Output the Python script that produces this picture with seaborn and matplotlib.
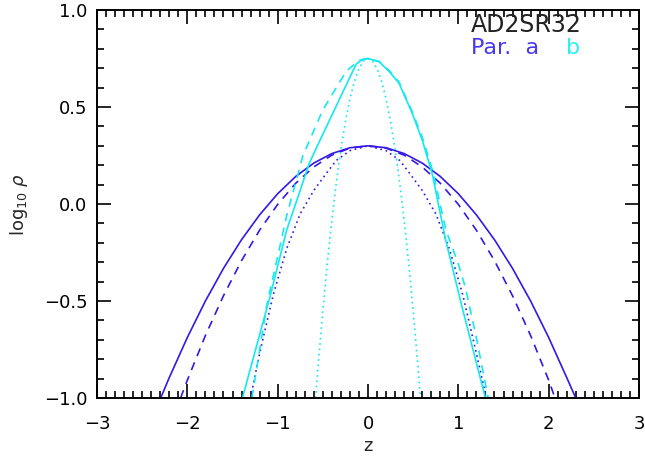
import numpy as np
import pandas as pd
import matplotlib
matplotlib.use("Agg")
import matplotlib.pyplot as plt
import seaborn as sns
from matplotlib.ticker import MultipleLocator

sns.set_theme(style="white")
plt.rcParams['font.family'] = ['DejaVu Sans']
plt.rcParams['mathtext.fontset'] = 'dejavusans'

# ---- data (z, log10 rho) ----
# Par. a (blue)
a_solid_z = [-2.295, -2.2, -2.0, -1.8, -1.6, -1.4, -1.2, -1.0, -0.8, -0.6, -0.4, -0.2, 0.0,
             0.2, 0.4, 0.6, 0.8, 1.0, 1.2, 1.4, 1.6, 1.8, 2.0, 2.2, 2.3]
a_solid_y = [-1.0, -0.895, -0.688, -0.500, -0.332, -0.184, -0.056, 0.053, 0.142, 0.211, 0.260, 0.290, 0.300,
             0.290, 0.260, 0.211, 0.142, 0.053, -0.056, -0.184, -0.332, -0.500, -0.688, -0.895, -1.0]

a_dash_z = [-2.075, -2.0, -1.8, -1.6, -1.4, -1.2, -1.0, -0.8, -0.6, -0.4, -0.2, 0.0,
            0.2, 0.4, 0.6, 0.8, 1.0, 1.2, 1.4, 1.6, 1.8, 2.0, 2.07]
a_dash_y = [-1.0, -0.908, -0.678, -0.473, -0.292, -0.135, -0.002, 0.107, 0.191, 0.252, 0.288, 0.300,
            0.288, 0.252, 0.191, 0.107, -0.002, -0.135, -0.292, -0.473, -0.678, -0.908, -1.0]

a_dot_z = [-1.30, -1.2, -1.05, -0.9, -0.75, -0.6, -0.45, -0.35, -0.2, 0.0,
           0.2, 0.35, 0.45, 0.6, 0.75, 0.9, 1.05, 1.2, 1.31]
a_dot_y = [-1.0, -0.77, -0.47, -0.23, -0.05, 0.07, 0.165, 0.225, 0.275, 0.300,
           0.275, 0.225, 0.165, 0.07, -0.05, -0.23, -0.47, -0.77, -1.0]

# b (cyan)
b_solid_z = [-1.39, -1.25, -1.085, -0.90, -0.78, -0.65, -0.52, -0.39, -0.26, -0.13, -0.06, 0.0,
             0.124, 0.24, 0.344, 0.49, 0.60, 0.71, 0.86, 1.04, 1.30]
b_solid_y = [-1.0, -0.76, -0.478, -0.134, 0.03, 0.21, 0.34, 0.467, 0.595, 0.722, 0.745, 0.75,
             0.733, 0.68, 0.622, 0.467, 0.33, 0.158, -0.186, -0.529, -1.0]

b_dash_z = [-1.285, -1.12, -1.0, -0.90, -0.72, -0.50, -0.24, -0.10, 0.0,
            0.124, 0.24, 0.344, 0.49, 0.60, 0.72, 0.86, 1.0, 1.08, 1.2, 1.33]
b_dash_y = [-1.0, -0.52, -0.27, -0.06, 0.25, 0.485, 0.685, 0.74, 0.75,
            0.735, 0.685, 0.628, 0.475, 0.345, 0.165, -0.13, -0.31, -0.433, -0.69, -1.0]

b_dot_z = [-0.58, -0.55, -0.5, -0.45, -0.4, -0.35, -0.3, -0.25, -0.2, -0.15, -0.1, -0.05, 0.0,
           0.05, 0.1, 0.15, 0.2, 0.25, 0.3, 0.35, 0.4, 0.45, 0.5, 0.55, 0.58]
b_dot_y = [-1.0, -0.823, -0.55, -0.303, -0.082, 0.113, 0.282, 0.425, 0.542, 0.633, 0.698, 0.737, 0.75,
           0.737, 0.698, 0.633, 0.542, 0.425, 0.282, 0.113, -0.082, -0.303, -0.55, -0.823, -1.0]

x_ticks = [-3, -2, -1, 0, 1, 2, 3]
y_ticks = [-1.0, -0.5, 0.0, 0.5, 1.0]

BLUE = '#3418E6'
CYAN = '#14E8F0'

fig = plt.figure(figsize=(6.45, 4.58), dpi=100)
L, R, B, T = 97 / 645, 639 / 645, 1 - 398 / 458, 1 - 10 / 458
ax = fig.add_axes([L, B, R - L, T - B])

curves = [
    (a_solid_z, a_solid_y, BLUE, '-'),
    (a_dash_z, a_dash_y, BLUE, (0, (5, 4))),
    (a_dot_z, a_dot_y, BLUE, (0, (1, 2.2))),
    (b_solid_z, b_solid_y, CYAN, '-'),
    (b_dash_z, b_dash_y, CYAN, (0, (5, 4))),
    (b_dot_z, b_dot_y, CYAN, (0, (1, 2.2))),
]
for zz, yy, col, ls in curves:
    df = pd.DataFrame({'z': zz, 'y': yy})
    sns.lineplot(data=df, x='z', y='y', ax=ax, color=col, linestyle=ls,
                 linewidth=1.2, sort=False, estimator=None)

ax.set_xlim(-3, 3)
ax.set_ylim(-1.0, 1.0)
ax.set_xticks(x_ticks)
ax.set_yticks(y_ticks)
ax.set_xticklabels(['\u22123', '\u22122', '\u22121', '0', '1', '2', '3'])
ax.set_yticklabels(['\u22121.0', '\u22120.5', '0.0', '0.5', '1.0'])
ax.xaxis.set_minor_locator(MultipleLocator(0.1))
ax.yaxis.set_minor_locator(MultipleLocator(0.1))
ax.tick_params(which='both', direction='in', top=True, right=True, bottom=True, left=True,
               width=1.2, colors='black', labelsize=13)
ax.tick_params(axis='x', which='major', pad=12)
ax.tick_params(axis='y', which='major', pad=7)
ax.tick_params(which='major', length=10)
ax.tick_params(which='minor', length=5)
for sp in ax.spines.values():
    sp.set_color('black')
    sp.set_linewidth(1.4)

ax.set_xlabel('z', fontsize=13, labelpad=3)
ax.set_ylabel(r'log$_{10}$ $\rho$', fontsize=13, labelpad=10)

ax.text(0.690, 0.961, 'AD2SR32', transform=ax.transAxes, fontsize=17,
        color='#222222', ha='left', va='center')
ax.text(0.690, 0.903, 'Par.  a', transform=ax.transAxes, fontsize=16,
        color='#4a38f0', ha='left', va='center')
ax.text(0.866, 0.903, 'b', transform=ax.transAxes, fontsize=16,
        color='#2cf0f4', ha='left', va='center')

fig.savefig('out.png', dpi=100)
